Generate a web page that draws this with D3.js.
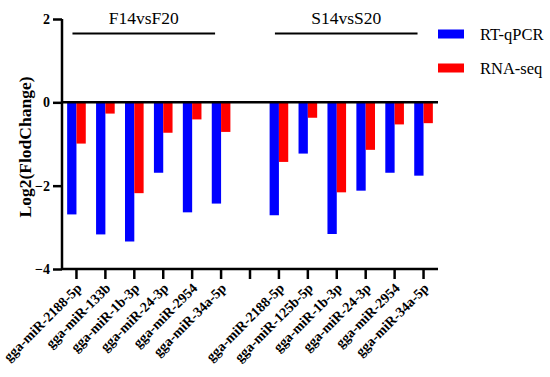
<!DOCTYPE html>
<html><head><meta charset="utf-8">
<script src="https://cdn.jsdelivr.net/npm/d3@7"></script>
<style>body{margin:0;background:#fff}svg{display:block}</style>
</head><body><svg id="c" width="550" height="377"></svg>
<script>
const categories = ["gga-miR-2188-5p","gga-miR-133b","gga-miR-1b-3p","gga-miR-24-3p","gga-miR-2954","gga-miR-34a-5p","",
  "gga-miR-2188-5p","gga-miR-125b-5p","gga-miR-1b-3p","gga-miR-24-3p","gga-miR-2954","gga-miR-34a-5p"];
const rtqpcr = [-2.69,-3.17,-3.34,-1.69,-2.64,-2.43,null,-2.71,-1.23,-3.16,-2.12,-1.69,-1.76];
const rnaseq = [-0.99,-0.27,-2.18,-0.73,-0.41,-0.71,null,-1.43,-0.37,-2.16,-1.14,-0.53,-0.50];
const yTicks = [2,0,-2,-4];
const groups = [{name:"F14vsF20", from:0, to:5},{name:"S14vsS20", from:7, to:12}];
const seriesNames = ["RT-qPCR","RNA-seq"];
const colors = ["#0000FF","#FF0000"];

const svg = d3.select("#c");
const serif = "Liberation Serif, Times New Roman, serif";
const idx = categories.map((d,i)=>i);
const x = d3.scaleBand().domain(idx).range([62,438]).padding(0);
const y = d3.scaleLinear().domain([-4,2]).range([269,19]);
const bw = x.bandwidth()*0.322;

// bars
const g = svg.append("g");
[rtqpcr, rnaseq].forEach((vals,s)=>{
  g.selectAll(null).data(idx.filter(i=>vals[i]!=null)).enter().append("rect")
    .attr("x", i=> x(i)+x.bandwidth()/2 + (s===0?-bw:0))
    .attr("y", y(0))
    .attr("width", bw)
    .attr("height", i=> y(vals[i]) - y(0))
    .attr("fill", colors[s]);
});

// y axis
const ya = svg.append("g").attr("transform","translate(62,0)")
  .call(d3.axisLeft(y).tickValues(yTicks).tickSize(9).tickPadding(3).tickFormat(d3.format("d")));
ya.attr("font-family",serif).attr("font-size",14).attr("font-weight","bold");
ya.select(".domain").attr("stroke","#000").attr("stroke-width",2.5).attr("d","M0,"+y(2)+"V"+y(-4));
ya.selectAll(".tick line").attr("stroke-width",2.5);
ya.selectAll("text").attr("fill","#000");

// x axis at bottom
const xa = svg.append("g").attr("transform","translate(0,"+y(-4)+")")
  .call(d3.axisBottom(x).tickSize(10).tickPadding(4).tickFormat(i=>categories[i]));
xa.attr("font-family",serif).attr("font-size",14).attr("font-weight","bold");
xa.select(".domain").attr("stroke-width",2.5).attr("d","M62,0H438");
xa.selectAll(".tick line").attr("stroke-width",2.5);
xa.selectAll("text").attr("text-anchor","end").attr("dy",null).attr("y",0)
  .attr("transform","translate(6,20) rotate(-45)");

// zero line
svg.append("line").attr("x1",62).attr("x2",438).attr("y1",y(0)).attr("y2",y(0))
  .attr("stroke","#000").attr("stroke-width",2.5);

// groups
groups.forEach(gr=>{
  const x1 = x(gr.from)+x.bandwidth()/2-4, x2 = x(gr.to)+x.bandwidth()/2-6;
  svg.append("line").attr("x1",x1).attr("x2",x2).attr("y1",33.5).attr("y2",33.5)
    .attr("stroke","#000").attr("stroke-width",2);
  svg.append("text").attr("x",(x1+x2)/2).attr("y",24).attr("text-anchor","middle")
    .attr("font-family",serif).attr("font-size",17.5).text(gr.name);
});

// y title
svg.append("text").attr("transform","translate(31,147) rotate(-90)").attr("text-anchor","middle")
  .attr("font-family",serif).attr("font-weight","bold").attr("font-size",17.5).text("Log2(FlodChange)");

// legend
seriesNames.forEach((n,i)=>{
  const ly = 34 + i*34;
  svg.append("rect").attr("x",438).attr("y",ly-4.5).attr("width",26).attr("height",9).attr("fill",colors[i]);
  svg.append("text").attr("x",480).attr("y",ly+5.5).attr("font-family",serif).attr("font-size",16.5).text(n);
});
</script></body></html>
